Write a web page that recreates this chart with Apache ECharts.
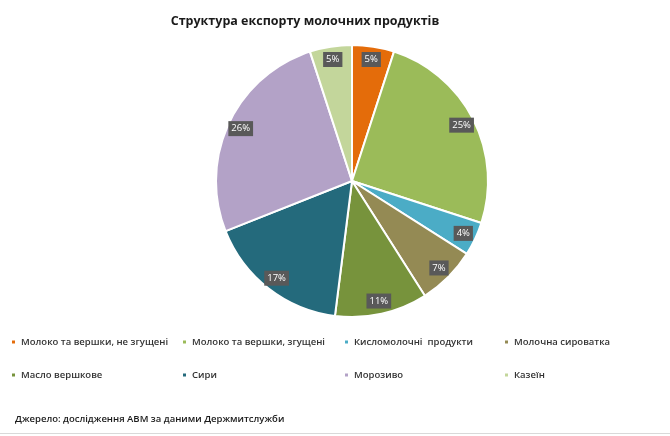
<!DOCTYPE html>
<html>
<head>
<meta charset="utf-8">
<script src="https://cdn.jsdelivr.net/npm/echarts@6/dist/echarts.min.js"></script>
<style>
  html, body { margin: 0; padding: 0; background: #fff; }
  #chart { width: 670px; height: 436px; }
</style>
</head>
<body>
<div id="chart"></div>
<script>
const categories = [
  "Молоко та вершки, не згущені",
  "Молоко та вершки, згущені",
  "Кисломолочні  продукти",
  "Молочна сироватка",
  "Масло вершкове",
  "Сири",
  "Морозиво",
  "Казеїн"
];
const shares = [5, 25, 4, 7, 11, 17, 26, 5];
const colors = ["#E46C0A", "#9BBB59", "#4BACC6", "#948A54", "#77933C", "#246A7C", "#B3A2C7", "#C3D69B"];

const font = "'Open Sans', 'Noto Sans', sans-serif";
const pieData = categories.map((name, i) => ({
  name: name,
  value: shares[i],
  itemStyle: { color: colors[i] }
}));

// legend is laid out in 4 columns of 2 rows
const legendCols = [10, 181, 343, 503];
const legends = legendCols.map((left, c) => ({
  orient: "vertical",
  left: left,
  top: 337,
  padding: 0,
  itemWidth: 5,
  itemHeight: 5,
  itemGap: 23,
  icon: "rect",
  selectedMode: false,
  textStyle: { fontFamily: font, fontSize: 9.5, color: "#333", fontWeight: 600 },
  data: [categories[c], categories[c + 4]]
}));

const chart = echarts.init(document.getElementById("chart"));
chart.setOption({
  animation: false,
  title: {
    text: "Структура експорту молочних продуктів",
    left: 300,
    textAlign: "center",
    top: 10,
    textStyle: { fontFamily: font, fontSize: 12.5, fontWeight: "bold", color: "#1a1a1a" }
  },
  legend: legends,
  graphic: [
    {
      type: "text",
      left: 15,
      top: 414,
      style: {
        text: "Джерело: дослідження АВМ за даними Держмитслужби",
        font: "600 9.5px " + font,
        fill: "#1a1a1a"
      }
    },
    {
      type: "rect",
      left: 0,
      top: 433,
      shape: { width: 670, height: 1 },
      style: { fill: "#d9d9d9" }
    }
  ],
  series: [
    {
      type: "pie",
      center: [352, 181],
      radius: [0, 136],
      startAngle: 90,
      clockwise: true,
      label: { show: false },
      labelLine: { show: false },
      itemStyle: { borderColor: "#fff", borderWidth: 2 },
      emphasis: { disabled: true },
      data: pieData
    },
    {
      // transparent ring that only places the labels near the outer edge
      type: "pie",
      center: [352, 181],
      radius: [104, 136],
      startAngle: 90,
      clockwise: true,
      silent: true,
      itemStyle: { color: "transparent" },
      label: {
        show: true,
        position: "inside",
        formatter: "{c}%",
        fontFamily: font,
        fontSize: 9.5,
        color: "#fff",
        backgroundColor: "#595959",
        padding: [3, 3, 2, 3]
      },
      labelLine: { show: false },
      emphasis: { disabled: true },
      data: shares.map((v, i) => ({ name: categories[i], value: v }))
    }
  ]
});
</script>
</body>
</html>
